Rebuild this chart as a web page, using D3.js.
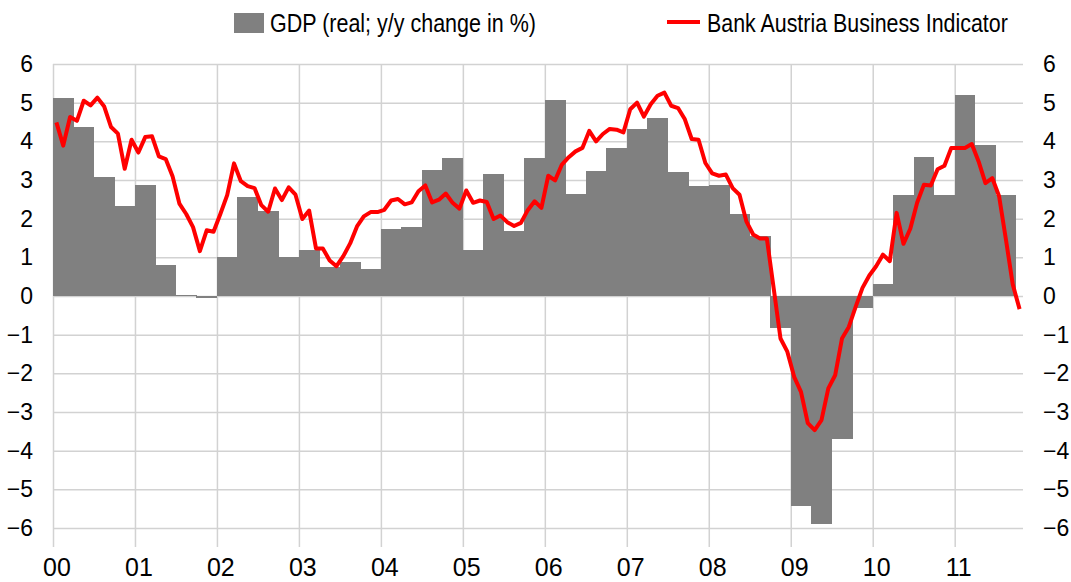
<!DOCTYPE html>
<html>
<head>
<meta charset="utf-8">
<script src="https://cdn.jsdelivr.net/npm/d3@7"></script>
<style>
  body { margin: 0; background: #fff; }
  svg { display: block; }
</style>
</head>
<body>
<svg id="chart"></svg>
<script>
// year tick labels (one category per month, Jan 2000 .. Oct 2011)
const yearLabels = ['00','01','02','03','04','05','06','07','08','09','10','11'];
const monthCount = 142;

// GDP real, y/y change in % (quarterly, 2000Q1 .. 2011Q3)
const gdp = [
  5.13, 4.38, 3.07, 2.32,
  2.88, 0.79, 0.02, -0.05,
  1.02, 2.55, 2.21, 1.02,
  1.19, 0.74, 0.87, 0.69,
  1.72, 1.78, 3.27, 3.56,
  1.18, 3.16, 1.67, 3.56,
  5.07, 2.65, 3.24, 3.82,
  4.31, 4.61, 3.20, 2.84,
  2.88, 2.11, 1.55, -0.83,
  -5.42, -5.90, -3.71, -0.32,
  0.30, 2.61, 3.60, 2.61,
  5.20, 3.91, 2.61
];

// Bank Austria Business Indicator (monthly)
const indicator = [
  4.49, 3.89, 4.63, 4.53, 5.05, 4.93, 5.13, 4.90, 4.37, 4.20, 3.29, 4.04,
  3.71, 4.11, 4.13, 3.61, 3.54, 3.10, 2.39, 2.12, 1.78, 1.16, 1.70, 1.66,
  2.12, 2.61, 3.43, 2.97, 2.84, 2.79, 2.35, 2.18, 2.78, 2.48, 2.81, 2.62,
  1.99, 2.21, 1.23, 1.23, 0.92, 0.77, 1.03, 1.36, 1.80, 2.06, 2.17, 2.17,
  2.23, 2.47, 2.51, 2.37, 2.42, 2.71, 2.86, 2.42, 2.49, 2.65, 2.41, 2.26,
  2.73, 2.41, 2.47, 2.43, 1.99, 2.08, 1.91, 1.81, 1.89, 2.22, 2.45, 2.28,
  3.11, 2.99, 3.40, 3.59, 3.74, 3.83, 4.27, 4.00, 4.19, 4.32, 4.30, 4.23,
  4.83, 5.00, 4.64, 4.96, 5.18, 5.26, 4.92, 4.86, 4.57, 4.06, 4.04, 3.44,
  3.17, 3.11, 3.14, 2.79, 2.62, 1.93, 1.59, 1.49, 1.49, 0.20, -1.10, -1.44,
  -2.09, -2.48, -3.29, -3.47, -3.21, -2.39, -2.05, -1.10, -0.80, -0.28, 0.21, 0.53,
  0.77, 1.07, 0.90, 2.15, 1.35, 1.74, 2.41, 2.88, 2.86, 3.28, 3.37, 3.83,
  3.83, 3.83, 3.93, 3.48, 2.92, 3.05, 2.58, 1.46, 0.30, -0.34
];

const yTicks = [-6,-5,-4,-3,-2,-1,0,1,2,3,4,5,6];

const width = 1071, height = 582;
const margin = { top: 64, right: 48, bottom: 54, left: 53 };
const innerW = width - margin.left - margin.right;
const innerH = height - margin.top - margin.bottom;

const svg = d3.select('#chart')
  .attr('width', width)
  .attr('height', height);

const chart = svg.append('g')
  .attr('transform', `translate(${margin.left},${margin.top})`);

const x = d3.scaleLinear().domain([0, monthCount]).range([0, innerW]);
const y = d3.scaleLinear().domain([-6, 6]).range([innerH, 0]);

const gridColor = '#d2d2d2';

// horizontal grid + left labels
const yLeft = chart.append('g')
  .call(d3.axisLeft(y).tickValues(yTicks).tickSize(-innerW).tickPadding(20).tickFormat(d3.format('d')));
yLeft.select('.domain').remove();
yLeft.selectAll('line').attr('stroke', gridColor).attr('stroke-width', 1.5);
yLeft.selectAll('text')
  .attr('font-family', '"Liberation Sans", Arial, sans-serif')
  .attr('font-size', 23).attr('fill', '#000');

// right labels
const yRight = chart.append('g')
  .attr('transform', `translate(${innerW},0)`)
  .call(d3.axisRight(y).tickValues(yTicks).tickSize(0).tickPadding(20).tickFormat(d3.format('d')));
yRight.select('.domain').remove();
yRight.selectAll('text')
  .attr('font-family', '"Liberation Sans", Arial, sans-serif')
  .attr('font-size', 23).attr('fill', '#000');

// vertical year lines + labels
const tickExtra = 19;
const xAxis = chart.append('g')
  .attr('transform', `translate(0,${innerH + tickExtra})`)
  .call(d3.axisBottom(x)
    .tickValues(yearLabels.map((d, i) => i * 12))
    .tickSize(-(innerH + tickExtra))
    .tickPadding(11)
    .tickFormat((d, i) => yearLabels[i]));
xAxis.select('.domain').remove();
xAxis.selectAll('line').attr('stroke', gridColor).attr('stroke-width', 1.5);
xAxis.selectAll('text')
  .attr('dx', x(0.5) - x(0))
  .attr('font-family', '"Liberation Sans Narrow", "Arial Narrow", sans-serif')
  .attr('font-size', 25).attr('fill', '#000');

// GDP bars (each quarter spans three months)
chart.selectAll('.bar')
  .data(gdp)
  .join('rect')
    .attr('class', 'bar')
    .attr('x', (d, i) => x(i * 3))
    .attr('width', x(3) - x(0) + 0.3)
    .attr('y', d => y(Math.max(0, d)))
    .attr('height', d => Math.abs(y(d) - y(0)))
    .attr('fill', '#808080')
    .attr('shape-rendering', 'crispEdges');

// indicator line
const line = d3.line()
  .x((d, i) => x(i + 0.5))
  .y(d => y(d));

chart.append('path')
  .datum(indicator)
  .attr('d', line)
  .attr('fill', 'none')
  .attr('stroke', '#ff0000')
  .attr('stroke-width', 4)
  .attr('stroke-linejoin', 'round');

// legend
const legend = svg.append('g')
  .attr('font-family', '"Liberation Sans Narrow", "Arial Narrow", sans-serif')
  .attr('font-size', 26)
  .attr('fill', '#000');

// squeeze legend text horizontally to the condensed look of the original
function squeezedText(g, x0, y0, w, str) {
  const holder = g.append('g');
  const t = holder.append('text').attr('x', 0).attr('y', 0).text(str);
  const natural = t.node().getComputedTextLength();
  const sx = Math.min(1, w / natural);
  holder.attr('transform', `translate(${x0},${y0}) scale(${sx},1)`);
}

legend.append('rect')
  .attr('x', 234).attr('y', 13).attr('width', 30).attr('height', 20)
  .attr('fill', '#808080');
squeezedText(legend, 270, 32, 266, 'GDP (real; y/y change in %)');

legend.append('line')
  .attr('x1', 667).attr('x2', 700).attr('y1', 22).attr('y2', 22)
  .attr('stroke', '#ff0000').attr('stroke-width', 4);
squeezedText(legend, 707, 32, 301, 'Bank Austria Business Indicator');
</script>
</body>
</html>
